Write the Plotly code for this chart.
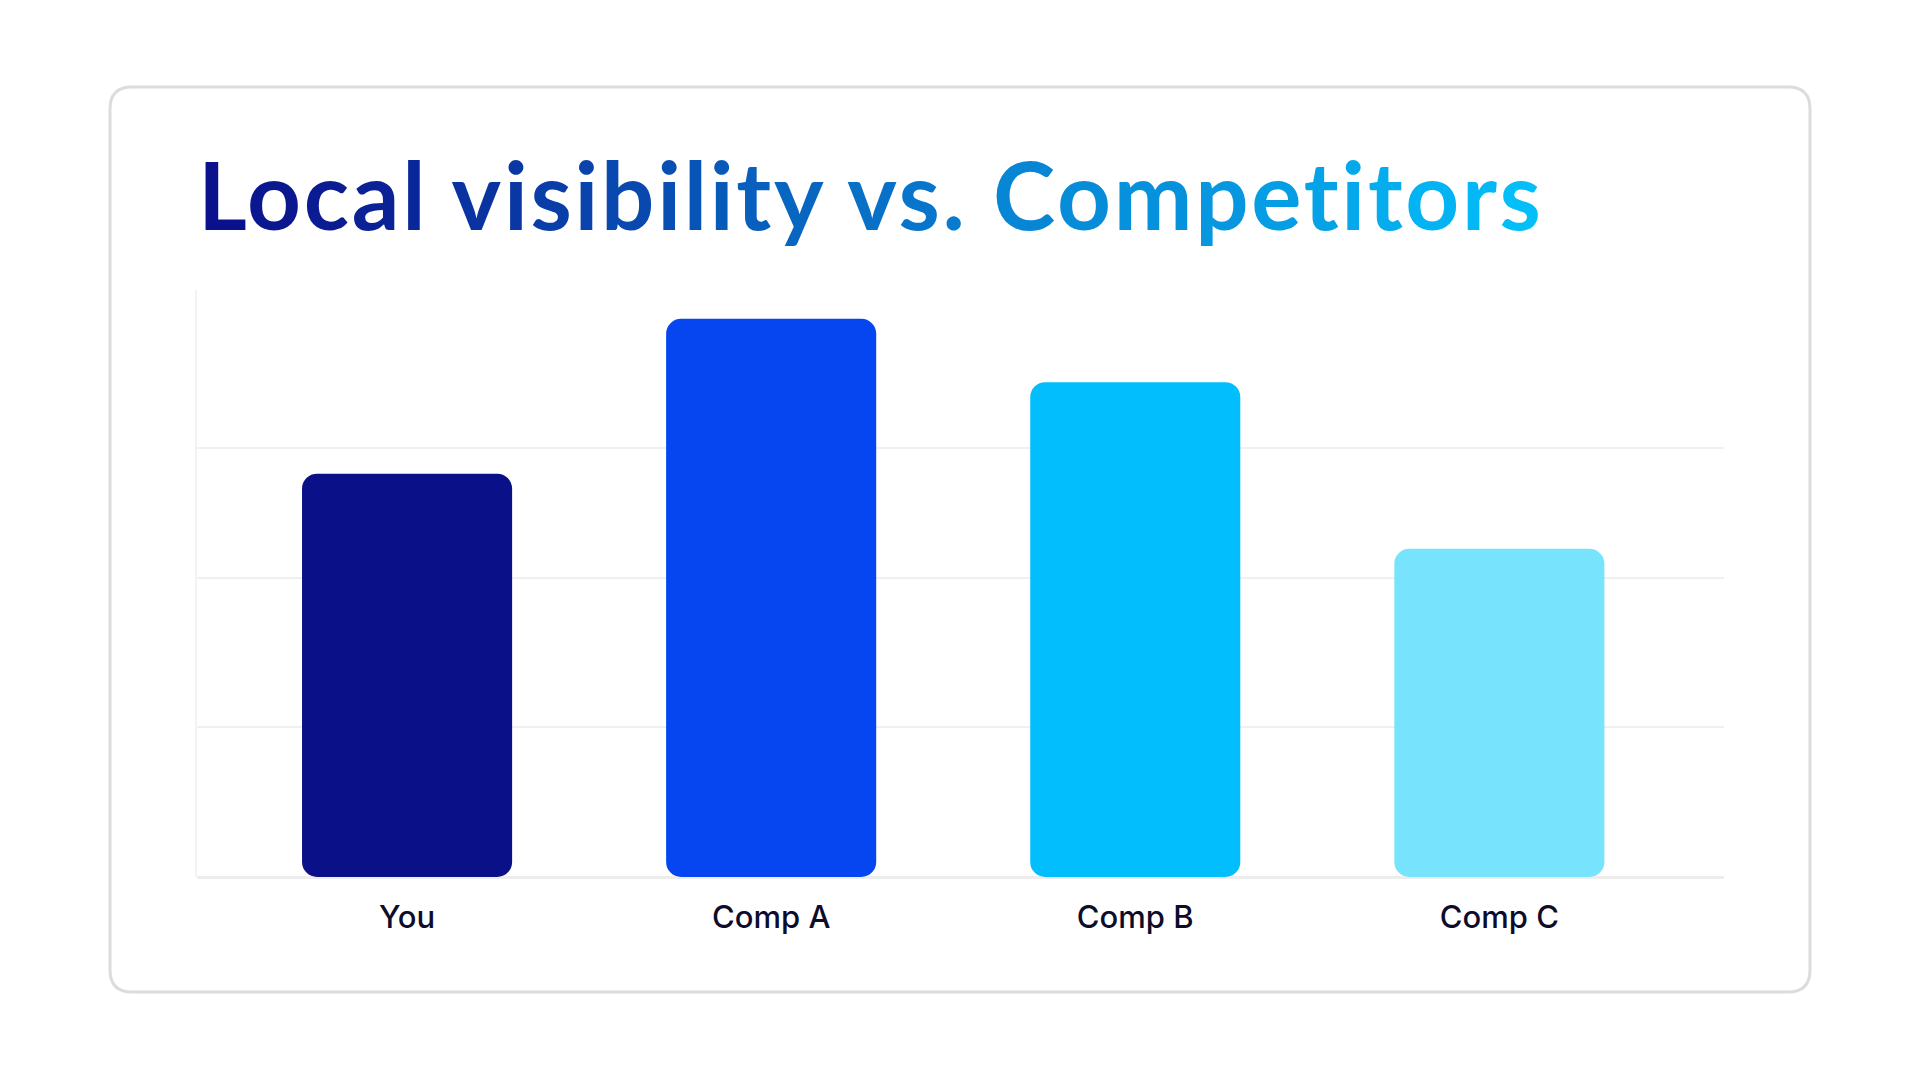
import plotly.graph_objects as go

# Data (axis 0-100, unlabelled)
categories = ["You", "Comp A", "Comp B", "Comp C"]
visibility = [68.7, 95.1, 84.3, 55.9]
bar_colors = ["#0A1088", "#0546F0", "#02BEFC", "#78E3FC"]
grid_values = [25.5, 51, 73]

title_text = "Local visibility vs. Competitors"
title_start = (11, 17, 140)
title_end = (4, 190, 248)

# page geometry in pixels
W, H = 1920, 1080
plot_l, plot_r, plot_t, plot_b = 197, 1724, 290, 877


def px_x(x):
    return (x - plot_l) / (plot_r - plot_l)


def px_y(y):
    return (plot_b - y) / (plot_b - plot_t)


def gradient_title(text, c0, c1, spacing):
    parts = []
    n = len(text) - 1
    for i, ch in enumerate(text):
        t = i / n
        r, g, b = [round(a + (bb - a) * t) for a, bb in zip(c0, c1)]
        parts.append("<span style='color:rgb(%d,%d,%d);letter-spacing:%spx'>%s</span>"
                     % (r, g, b, spacing, ch))
    return "".join(parts)


fig = go.Figure()

# an explicit base makes plotly round the bottom corners as well as the top ones
fig.add_trace(go.Bar(x=categories, y=visibility, base=[0] * len(visibility),
                     marker=dict(color=bar_colors, line_width=0),
                     hovertemplate="%{x}: %{y}<extra></extra>",
                     showlegend=False))

# card outline (rounded rectangle)
L, R, T, B, r = 110, 1810, 87, 992, 22
path = "M {},{} L {},{} Q {},{} {},{} L {},{} Q {},{} {},{} L {},{} Q {},{} {},{} L {},{} Q {},{} {},{} Z".format(
    px_x(L + r), px_y(T), px_x(R - r), px_y(T),
    px_x(R), px_y(T), px_x(R), px_y(T + r),
    px_x(R), px_y(B - r),
    px_x(R), px_y(B), px_x(R - r), px_y(B),
    px_x(L + r), px_y(B),
    px_x(L), px_y(B), px_x(L), px_y(B - r),
    px_x(L), px_y(T + r),
    px_x(L), px_y(T), px_x(L + r), px_y(T))
fig.add_shape(type="path", path=path, xref="paper", yref="paper",
              line=dict(color="#DCDCDC", width=3), fillcolor="white", layer="below")

fig.add_annotation(text=gradient_title(title_text, title_start, title_end, 2.7),
                   xref="paper", yref="paper", x=px_x(196), y=px_y(252),
                   xanchor="left", yanchor="bottom", showarrow=False,
                   font=dict(family="Lato", size=94, weight=700))

fig.update_layout(
    width=W, height=H,
    margin=dict(l=plot_l, r=W - plot_r, t=plot_t, b=H - plot_b),
    paper_bgcolor="white",
    plot_bgcolor="rgba(0,0,0,0)",
    bargap=0.423,
    barcornerradius=15,
    font=dict(family="Inter", color="#0D0D2B"),
    xaxis=dict(range=[-0.577, 3.617], showgrid=False, zeroline=False,
               showline=False, ticks="", ticklabelstandoff=19,
               tickfont=dict(size=31, color="#0D0D2B", family="Inter", weight=500),
               fixedrange=True),
    yaxis=dict(range=[0, 100], tickvals=grid_values, showticklabels=False,
               showgrid=True, gridcolor="#F0F0F0", gridwidth=2,
               zeroline=True, zerolinecolor="#EDEDED", zerolinewidth=3,
               showline=True, linecolor="#F3F3F3", linewidth=2,
               fixedrange=True),
)

fig.write_html("out.html", config={"displayModeBar": False},
               post_script="document.body.style.margin='0';document.body.style.overflow='hidden';")
